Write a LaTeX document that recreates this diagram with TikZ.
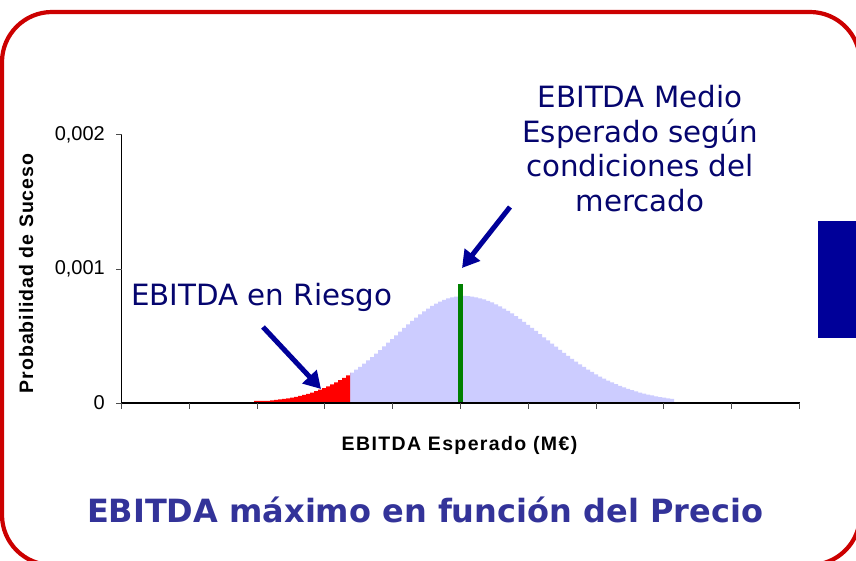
\documentclass[tikz,border=0pt]{standalone}
\usepackage{fontspec}
\usetikzlibrary{arrows.meta}
\newfontfamily\dvfont{DejaVu Sans}
\newfontfamily\arfont{Liberation Sans}
\newfontfamily\arspfont[LetterSpace=5]{Liberation Sans}
\newfontfamily\arspxfont[LetterSpace=7]{Liberation Sans}
\definecolor{framered}{RGB}{204,0,0}
\definecolor{navytext}{RGB}{5,5,110}
\definecolor{arrownavy}{RGB}{0,0,153}
\definecolor{titleblue}{RGB}{51,51,153}
\definecolor{sidebarblue}{RGB}{0,0,153}
\definecolor{distblue}{RGB}{204,204,255}
\definecolor{riskred}{RGB}{255,0,0}
\definecolor{meangreen}{RGB}{0,128,0}
\tikzset{
  annot/.style={text=navytext, inner sep=0pt, font=\dvfont\fontsize{29.3}{34.7}\selectfont},
  ticklab/.style={inner sep=0pt, anchor=east, font=\arfont\fontsize{20}{22}\selectfont},
  axtitle/.style={inner sep=0pt, font=\arspfont\bfseries\fontsize{19.5}{22}\selectfont},
  bigarrow/.style={draw=arrownavy, line width=5pt, -{Triangle[length=17pt,width=19pt]}},
  axisline/.style={draw=black, line width=1.2pt},
  tickline/.style={draw=black!70, line width=1pt},
}
\begin{document}
\begin{tikzpicture}[x=1pt,y=-1pt,
  declare function={fL(\x)=107*exp(-0.5*((\x-461)/70)^2);
                    fR(\x)=107*exp(-0.5*((\x-461)/82)^2);}]
\useasboundingbox (0,0) rectangle (856,561);
\clip (0,0) rectangle (856,561);
\fill[white] (0,0) rectangle (856,561);
% frame
\draw[framered, line width=4.2pt, rounded corners=50pt] (2,12) rectangle (860,565);
% side bar
\node[fill=sidebarblue, minimum width=40pt, minimum height=117pt, inner sep=0pt, anchor=north west] (sidebar) at (818,221) {};
% distribution
\fill[distblue] (350,403) -- plot[const plot, domain=350:462, samples=29] (\x,{403-fL(\x)})
   -- plot[const plot, domain=462:674, samples=54] (\x,{403-max(fR(\x),1.5)}) -- (674,403) -- cycle;
\fill[riskred] (254,403) -- plot[const plot, domain=254:350, samples=25] (\x,{403-max(fL(\x),2.2)}) -- (350,403) -- cycle;
% mean line
\coordinate (gtop) at (460.5,284);
\coordinate (gbot) at (460.5,403);
\draw[meangreen, line width=4.5pt] (gbot) -- (gtop);
% axes
\coordinate (o) at (121.5,403);
\coordinate (ytop) at (121.5,135);
\coordinate (xend) at (800,403);
\draw[axisline] (ytop) -- (o) -- (xend);
\foreach \yy in {135,269,403} \draw[tickline] (116,\yy) -- (121.5,\yy);
\foreach \i in {0,...,10} \draw[tickline] ({121.5+67.8*\i},403) -- ({121.5+67.8*\i},409);
\node[ticklab] (l2) at (105,135) {0,002};
\node[ticklab] (l1) at (105,269) {0,001};
\node[ticklab] (l0) at (105,403) {0};
\node[axtitle, font=\arspxfont\bfseries\fontsize{19.5}{22}\selectfont, anchor=base] (xtitle) at (459.5,450) {EBITDA Esperado (M€)};
\node[axtitle, rotate=90, anchor=base] (ytitle) at (33,273.5) {Probabilidad de Suceso};
% annotations
\node[annot, align=center, anchor=base] (medio) at (640,211.7) {EBITDA Medio\\Esperado según\\condiciones del\\mercado};
\node[annot, anchor=base west] (riesgo) at (131,305.7) {EBITDA en Riesgo};
\coordinate (a1s) at (263,327);
\coordinate (a1e) at (321,389);
\coordinate (a2s) at (510,207);
\coordinate (a2e) at (462,268);
\draw[bigarrow] (a1s) -- (a1e);
\draw[bigarrow] (a2s) -- (a2e);
% title
\node[inner sep=0pt, anchor=base, text=titleblue, font=\dvfont\bfseries\fontsize{32}{36}\selectfont] (title) at (425,522) {EBITDA máximo en función del Precio};
\end{tikzpicture}
\end{document}
